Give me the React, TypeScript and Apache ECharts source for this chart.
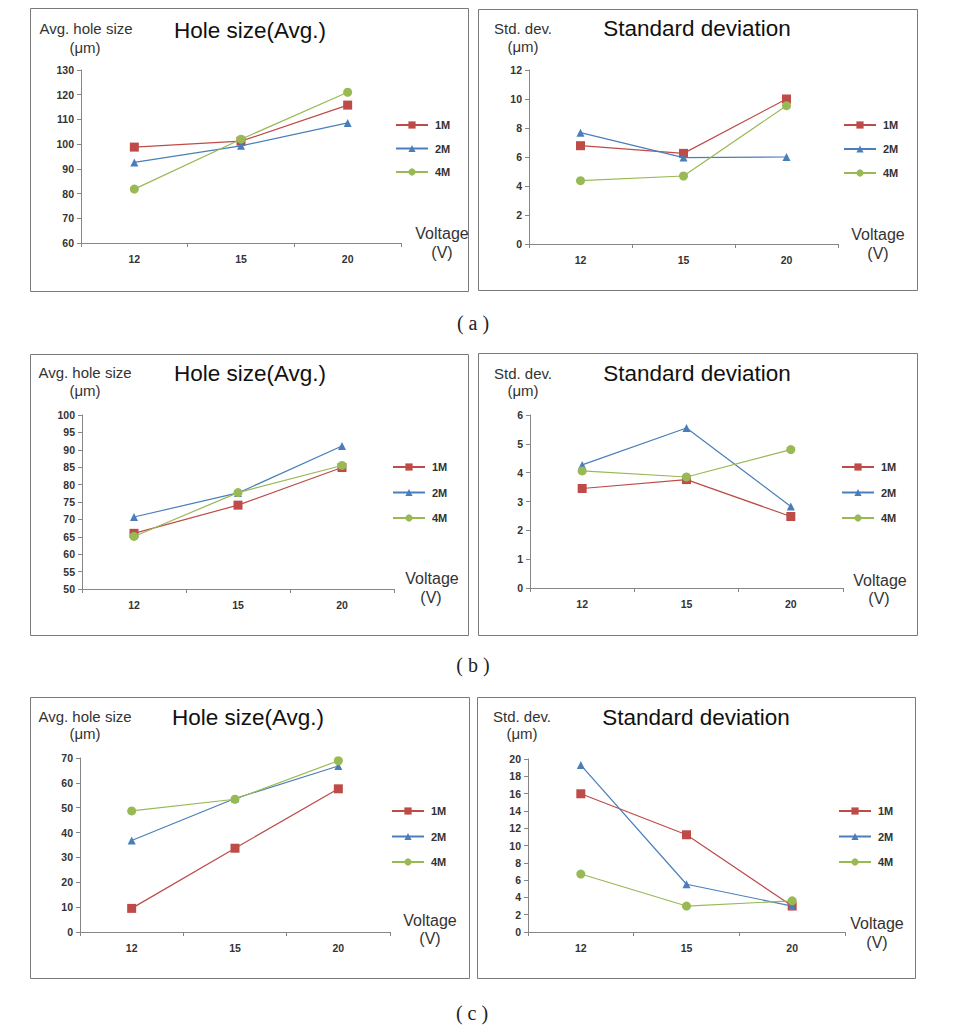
import React, { useEffect, useRef } from "react";
import * as echarts from "echarts";

// ---- data ----
const categories = ["12", "15", "20"];
const seriesNames = ["1M", "2M", "4M"];

// (a)
const avgA_1M = [98.8, 101.2, 115.8];
const avgA_2M = [92.6, 99.3, 108.6];
const avgA_4M = [81.8, 102, 121];
const stdA_1M = [6.78, 6.25, 10.0];
const stdA_2M = [7.68, 5.96, 6.0];
const stdA_4M = [4.37, 4.69, 9.54];
// (b)
const avgB_1M = [66.0, 74.1, 84.9];
const avgB_2M = [70.7, 77.6, 91.1];
const avgB_4M = [65.1, 77.7, 85.5];
const stdB_1M = [3.45, 3.76, 2.48];
const stdB_2M = [4.27, 5.55, 2.83];
const stdB_4M = [4.06, 3.85, 4.8];
// (c)
const avgC_1M = [9.5, 33.7, 57.6];
const avgC_2M = [36.8, 53.7, 66.8];
const avgC_4M = [48.7, 53.4, 68.9];
const stdC_1M = [15.98, 11.24, 3.0];
const stdC_2M = [19.3, 5.52, 3.0];
const stdC_4M = [6.7, 3.0, 3.6];

// y-axis ranges: [min, max, interval]
const yAvgA = [60, 130, 10];
const yStdA = [0, 12, 2];
const yAvgB = [50, 100, 5];
const yStdB = [0, 6, 1];
const yAvgC = [0, 70, 10];
const yStdC = [0, 20, 2];

const captions = ["( a )", "( b )", "( c )"];
const titleAvg = "Hole size(Avg.)";
const titleStd = "Standard deviation";
const yNameAvg = "Avg. hole size";
const yNameStd = "Std. dev.";
const unitName = "(μm)";
const xName1 = "Voltage";
const xName2 = "(V)";

// ---- layout / style ----
const COLORS = ["#BE4B48", "#4A7EBB", "#98B954"];
const SYMBOLS = ["rect", "triangle", "circle"];
const SYMBOL_SIZES = [9, 8, 9];
const SANS = 'Arial, "Liberation Sans", sans-serif';

const panels = [
  {
    data: [avgA_1M, avgA_2M, avgA_4M], y: yAvgA, title: titleAvg, yName: yNameAvg,
    grid: { left: 81, top: 70, width: 320, height: 173 },
    border: [30, 8, 438, 283], titlePos: [250, 30], yNamePos: [86, 28], unitPos: [85, 47],
    volt: [442, 233], v: [442, 252], legend: [395, 125, 23.5],
  },
  {
    data: [stdA_1M, stdA_2M, stdA_4M], y: yStdA, title: titleStd, yName: yNameStd,
    grid: { left: 529, top: 70, width: 309, height: 174 },
    border: [478, 9, 439, 281], titlePos: [697, 28], yNamePos: [523, 28], unitPos: [523, 46],
    volt: [878, 234], v: [878, 253], legend: [843, 125, 24],
  },
  {
    data: [avgB_1M, avgB_2M, avgB_4M], y: yAvgB, title: titleAvg, yName: yNameAvg,
    grid: { left: 82, top: 415, width: 312, height: 174 },
    border: [30, 354, 438, 281], titlePos: [250, 373], yNamePos: [85, 372], unitPos: [85, 390],
    volt: [432, 578], v: [431, 597], legend: [392, 467, 25.5],
  },
  {
    data: [stdB_1M, stdB_2M, stdB_4M], y: yStdB, title: titleStd, yName: yNameStd,
    grid: { left: 530, top: 415, width: 313, height: 173 },
    border: [478, 353, 439, 282], titlePos: [697, 373], yNamePos: [523, 373], unitPos: [523, 390],
    volt: [880, 580], v: [879, 598], legend: [841, 467, 25.5],
  },
  {
    data: [avgC_1M, avgC_2M, avgC_4M], y: yAvgC, title: titleAvg, yName: yNameAvg,
    grid: { left: 80, top: 758, width: 310, height: 174 },
    border: [30, 697, 439, 281], titlePos: [248, 717], yNamePos: [85, 716], unitPos: [85, 733],
    volt: [430, 920], v: [430, 938], legend: [391, 811, 25.5],
  },
  {
    data: [stdC_1M, stdC_2M, stdC_4M], y: yStdC, title: titleStd, yName: yNameStd,
    grid: { left: 528, top: 759, width: 317, height: 173 },
    border: [477, 697, 438, 281], titlePos: [696, 717], yNamePos: [522, 716], unitPos: [522, 733],
    volt: [877, 923], v: [877, 942], legend: [838, 811, 25.5],
  },
];

const captionPos = [
  [473, 323],
  [473, 665],
  [472, 1013],
];

function txt(text: string, x: number, y: number, fontSize: number, extra: any = {}) {
  return {
    type: "text",
    x,
    y,
    silent: true,
    style: {
      text,
      fill: "#262626",
      fontSize,
      fontFamily: SANS,
      align: "center",
      verticalAlign: "middle",
      ...extra,
    },
  };
}

function buildOption() {
  const grids: any[] = [];
  const xAxes: any[] = [];
  const yAxes: any[] = [];
  const series: any[] = [];
  const legends: any[] = [];
  const graphics: any[] = [];

  panels.forEach((p, i) => {
    grids.push({ ...p.grid, containLabel: false });
    xAxes.push({
      type: "category",
      gridIndex: i,
      data: categories,
      boundaryGap: true,
      axisLine: { show: true, lineStyle: { color: "#868686", width: 1 } },
      axisTick: { show: true, alignWithLabel: false, length: 4, lineStyle: { color: "#868686" } },
      axisLabel: { color: "#333", fontSize: 10.5, fontWeight: "bold", fontFamily: SANS, margin: 10 },
      splitLine: { show: false },
    });
    yAxes.push({
      type: "value",
      gridIndex: i,
      min: p.y[0],
      max: p.y[1],
      interval: p.y[2],
      axisLine: { show: true, lineStyle: { color: "#868686", width: 1 } },
      axisTick: { show: true, length: 4, lineStyle: { color: "#868686" } },
      axisLabel: { color: "#333", fontSize: 10.5, fontWeight: "bold", fontFamily: SANS, margin: 7 },
      splitLine: { show: false },
    });
    p.data.forEach((d, k) => {
      series.push({
        type: "line",
        name: seriesNames[k],
        xAxisIndex: i,
        yAxisIndex: i,
        data: d,
        symbol: SYMBOLS[k],
        symbolSize: SYMBOL_SIZES[k],
        showSymbol: true,
        lineStyle: { color: COLORS[k], width: 1.2 },
        itemStyle: { color: COLORS[k], borderWidth: 0 },
        z: 3 + k,
      });
    });
    const [lx, ly, step] = p.legend;
    legends.push({
      data: seriesNames,
      orient: "vertical",
      left: lx,
      top: ly - 6,
      padding: 0,
      itemWidth: 32,
      itemHeight: 9,
      itemGap: step - 12,
      selectedMode: false,
      textStyle: {
        color: "#333",
        fontSize: 11,
        fontWeight: "bold",
        fontFamily: SANS,
        lineHeight: 12,
        padding: [0, 0, 0, 2],
      },
    });
    const [bx, by, bw, bh] = p.border;
    graphics.push({
      type: "rect",
      silent: true,
      shape: { x: bx + 0.5, y: by + 0.5, width: bw, height: bh },
      style: { fill: "none", stroke: "#7a7a7a", lineWidth: 1 },
    });
    graphics.push(txt(p.title, p.titlePos[0], p.titlePos[1], 22.5, { fill: "#111" }));
    graphics.push(txt(p.yName, p.yNamePos[0], p.yNamePos[1], 15, { fill: "#333" }));
    graphics.push(txt(unitName, p.unitPos[0], p.unitPos[1], 15, { fill: "#333" }));
    graphics.push(txt(xName1, p.volt[0], p.volt[1], 16, { fill: "#333" }));
    graphics.push(txt(xName2, p.v[0], p.v[1], 16, { fill: "#333" }));
  });

  captions.forEach((c, i) => {
    graphics.push(
      txt(c, captionPos[i][0], captionPos[i][1], 20, {
        fill: "#222",
        fontFamily: '"Liberation Serif", "DejaVu Serif", serif',
      })
    );
  });

  return {
    animation: false,
    backgroundColor: "#ffffff",
    grid: grids,
    xAxis: xAxes,
    yAxis: yAxes,
    legend: legends,
    series,
    graphic: graphics,
  };
}

export default function App() {
  const ref = useRef<HTMLDivElement>(null);
  useEffect(() => {
    if (!ref.current) return;
    const chart = echarts.init(ref.current, undefined, { renderer: "svg" });
    chart.setOption(buildOption() as any);
    return () => {
      chart.dispose();
    };
  }, []);
  return (
    <div
      ref={ref}
      style={{ position: "absolute", left: 0, top: 0, width: 965, height: 1029, background: "#fff" }}
    />
  );
}
